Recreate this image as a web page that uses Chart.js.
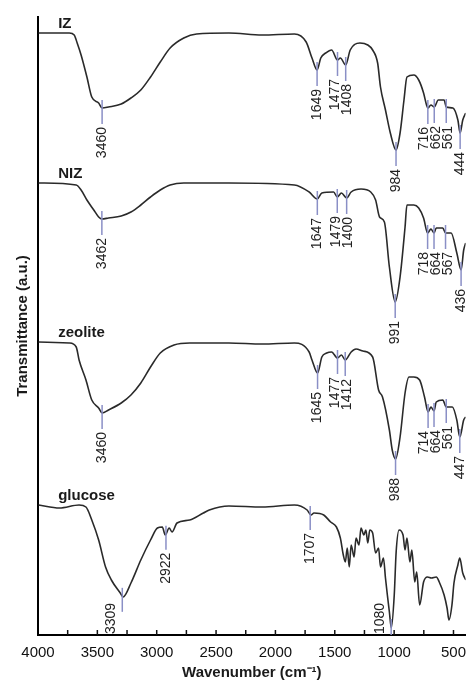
<!DOCTYPE html>
<html>
<head>
<meta charset="utf-8">
<script src="https://cdn.jsdelivr.net/npm/chart.js@4.4.0/dist/chart.umd.min.js"></script>
<style>
  html, body { margin: 0; padding: 0; background: #fff; }
  #wrap { width: 475px; height: 683px; }
</style>
</head>
<body>
<div id="wrap"><canvas id="ftir"></canvas></div>
<script>
// spectra: wavenumber (cm-1) and transmittance (a.u., stacked)
const izWn = [3995,3736,3695,3670,3637,3588,3547,3489,3460,3406,3299,3217,3134,3052,2970,2887,2772,2664,2392,2112,1840,1741,1692,1649,1618,1576,1527,1477,1453,1408,1370,1288,1222,1181,1139,1115,1073,1032,984,950,917,892,834,793,752,727,716,690,662,628,579,561,505,463,444,422,397];
const izT = [602,602,600,592,580,558,538,532,527,528,531,537,545,558,573,587,597,601,602,600,601,593,577,565,577,582,585,575,577,570,585,592,590,585,572,548,525,502,485,502,535,558,560,555,542,530,527,530,528,535,535,528,527,515,502,515,522];

const nizWn = [3995,3678,3637,3588,3530,3489,3462,3406,3299,3217,3134,3052,2970,2887,2772,2392,1840,1716,1647,1609,1510,1479,1444,1400,1362,1279,1197,1156,1123,1082,1040,991,950,908,892,834,793,752,718,690,664,645,590,567,520,472,436,414,397];
const nizT = [452,450,445,435,425,418,416,417,419,423,430,438,445,450,452,452,450,443,436,442,443,438,442,437,443,446,443,435,418,413,368,333,358,408,430,430,427,417,402,406,402,407,407,402,402,382,365,385,392];

const zeoWn = [3995,3736,3678,3654,3596,3547,3489,3460,3406,3299,3217,3134,3052,2970,2854,2722,2392,2112,1840,1716,1692,1645,1609,1568,1527,1477,1444,1412,1362,1321,1263,1181,1131,1098,1040,1016,988,950,908,875,834,785,744,714,690,664,645,590,561,510,472,447,414,397];
const zeoT = [293,292,288,275,255,235,227,222,225,232,240,252,268,282,290,292,292,291,292,283,275,262,278,282,283,277,280,275,283,286,284,278,245,238,205,185,176,198,242,258,258,255,238,223,228,224,233,235,228,228,215,198,215,218];

const gluWn = [3995,3819,3654,3596,3547,3489,3431,3382,3307,3283,3217,3134,3052,2994,2953,2928,2895,2871,2829,2722,2607,2557,2392,2112,1840,1733,1700,1675,1593,1535,1486,1453,1428,1411,1395,1378,1362,1337,1321,1296,1279,1255,1238,1222,1205,1181,1156,1131,1115,1090,1073,1057,1040,1024,999,983,958,925,908,892,867,851,826,810,785,752,719,686,645,620,579,554,538,513,496,463,447,422,397];
const gluT = [130,127,130,128,115,95,68,55,42,38,52,75,95,107,108,100,107,103,112,115,122,125,129,128,130,125,120,122,120,113,108,97,80,73,87,68,90,78,97,90,107,100,105,92,105,102,82,87,68,77,57,40,23,7,40,83,105,100,85,97,73,85,53,63,30,53,58,57,58,53,40,27,15,30,52,70,77,62,55];

const seriesNames = ['IZ', 'NIZ', 'zeolite', 'glucose'];

// peak markers: where the tick sits on the curve, and the text printed next to it
const izPeakAt = [3460,1649,1477,1408,984,716,662,561,444];
const izPeakText = ['3460','1649','1477','1408','984','716','662','561','444'];
const nizPeakAt = [3462,1647,1479,1400,991,718,664,567,436];
const nizPeakText = ['3462','1647','1479','1400','991','718','664','567','436'];
const zeoPeakAt = [3460,1645,1477,1412,988,714,664,561,447];
const zeoPeakText = ['3460','1645','1477','1412','988','714','664','561','447'];
const gluPeakAt = [3290,2922,1707,1025];
const gluPeakText = ['3309','2922','1707','1080'];

const xTicks = [4000,3500,3000,2500,2000,1500,1000,500];

const toPoints = (wn, t) => wn.map((w, i) => ({ x: w, y: t[i] }));

const valueAt = (pts, w) => {
    for (let i = 0; i < pts.length - 1; i++) {
        const a = pts[i], b = pts[i + 1];
        if (w <= a.x && w >= b.x) {
            const f = (a.x - w) / (a.x - b.x);
            return a.y + f * (b.y - a.y);
        }
    }
    return pts[pts.length - 1].y;
};

// push neighbouring label centres apart so the rotated numbers don't sit on top of each other
const spreadLabels = (centres, gap) => {
    const out = centres.slice();
    for (let pass = 0; pass < 4; pass++) {
        for (let i = 0; i < out.length - 1; i++) {
            if (out[i + 1] - out[i] < gap) {
                const mid = (out[i] + out[i + 1]) / 2;
                out[i] = mid - gap / 2;
                out[i + 1] = mid + gap / 2;
            }
        }
    }
    return out;
};

const makeSeries = (name, wn, t, peakAt, peakText) => ({
    label: name,
    data: toPoints(wn, t),
    borderColor: '#2a2a2a',
    borderWidth: 1.6,
    pointRadius: 0,
    fill: false,
    cubicInterpolationMode: 'monotone',
    peakAt: peakAt,
    peakText: peakText,
});

// draws series names, peak markers and the inward tick marks
const ftirDecor = {
    id: 'ftirDecor',
    afterDatasetsDraw(chart) {
        const { ctx, chartArea: area, scales: { x, y } } = chart;
        ctx.save();

        // inner ticks every 250 cm-1
        ctx.strokeStyle = '#111';
        ctx.lineWidth = 1.5;
        for (let v = 500; v < 4000; v += 250) {
            const px = x.getPixelForValue(v);
            ctx.beginPath();
            ctx.moveTo(px, area.bottom);
            ctx.lineTo(px, area.bottom - 5);
            ctx.stroke();
        }

        chart.data.datasets.forEach((ds) => {
            // series name above the left flat part
            ctx.fillStyle = '#1a1a1a';
            ctx.font = 'bold 15px Arial, "Liberation Sans", sans-serif';
            ctx.textAlign = 'left';
            ctx.textBaseline = 'bottom';
            ctx.fillText(ds.label, x.getPixelForValue(3830), y.getPixelForValue(ds.data[0].y) - 2);

            ctx.font = '14px Arial, "Liberation Sans", sans-serif';
            const lineX = ds.peakAt.map((w) => x.getPixelForValue(w));
            const textX = spreadLabels(lineX, 12);
            ds.peakAt.forEach((w, i) => {
                const px = lineX[i];
                const cy = y.getPixelForValue(valueAt(ds.data, w));
                const top = cy - 8;
                const bottom = Math.min(cy + 16, area.bottom);
                ctx.strokeStyle = '#8a8fc6';
                ctx.lineWidth = 1.5;
                ctx.beginPath();
                ctx.moveTo(px, top);
                ctx.lineTo(px, bottom);
                ctx.stroke();

                const text = ds.peakText[i];
                const tw = ctx.measureText(text).width;
                ctx.fillStyle = '#222';
                ctx.textBaseline = 'middle';
                ctx.save();
                if (bottom + 3 + tw > area.bottom) {
                    // no room below: put it on the left of the marker
                    ctx.translate(px - 11, area.bottom - 1);
                    ctx.rotate(-Math.PI / 2);
                    ctx.textAlign = 'left';
                } else {
                    ctx.translate(textX[i], bottom + 3);
                    ctx.rotate(-Math.PI / 2);
                    ctx.textAlign = 'right';
                }
                ctx.fillText(text, 0, 0);
                ctx.restore();
            });
        });
        ctx.restore();
    },
};

window.addEventListener('DOMContentLoaded', () => {
    Chart.defaults.font.family = 'Arial, "Liberation Sans", sans-serif';

    new Chart(document.getElementById('ftir'), {
        type: 'line',
        data: {
            datasets: [
                makeSeries(seriesNames[0], izWn, izT, izPeakAt, izPeakText),
                makeSeries(seriesNames[1], nizWn, nizT, nizPeakAt, nizPeakText),
                makeSeries(seriesNames[2], zeoWn, zeoT, zeoPeakAt, zeoPeakText),
                makeSeries(seriesNames[3], gluWn, gluT, gluPeakAt, gluPeakText),
            ],
        },
        options: {
            responsive: true,
            maintainAspectRatio: false,
            animation: false,
            layout: { padding: { top: 17, left: 10, right: 0, bottom: 1 } },
            plugins: {
                legend: { display: false },
                tooltip: { enabled: false },
            },
            scales: {
                x: {
                    type: 'linear',
                    reverse: true,
                    min: 398,
                    max: 4000,
                    grid: { display: false, drawTicks: false },
                    border: { display: true, color: '#000', width: 2 },
                    afterBuildTicks: (scale) => {
                        scale.ticks = xTicks.map((v) => ({ value: v }));
                    },
                    ticks: {
                        autoSkip: false,
                        maxRotation: 0,
                        padding: 9,
                        color: '#111',
                        font: { size: 15 },
                        callback: (v) => String(v),
                    },
                    title: {
                        display: true,
                        text: 'Wavenumber (cm\u207B\u00B9)',
                        color: '#1a1a1a',
                        font: { size: 15, weight: 'bold' },
                        padding: { top: -7, bottom: 0 },
                    },
                },
                y: {
                    min: 0,
                    max: 618,
                    grid: { display: false, drawTicks: false },
                    border: { display: true, color: '#000', width: 2 },
                    ticks: { display: false },
                    title: {
                        display: true,
                        text: 'Transmittance (a.u.)',
                        color: '#1a1a1a',
                        font: { size: 15, weight: 'bold' },
                        padding: { top: 4, bottom: 6 },
                    },
                },
            },
        },
        plugins: [ftirDecor],
    });
});
</script>
</body>
</html>
